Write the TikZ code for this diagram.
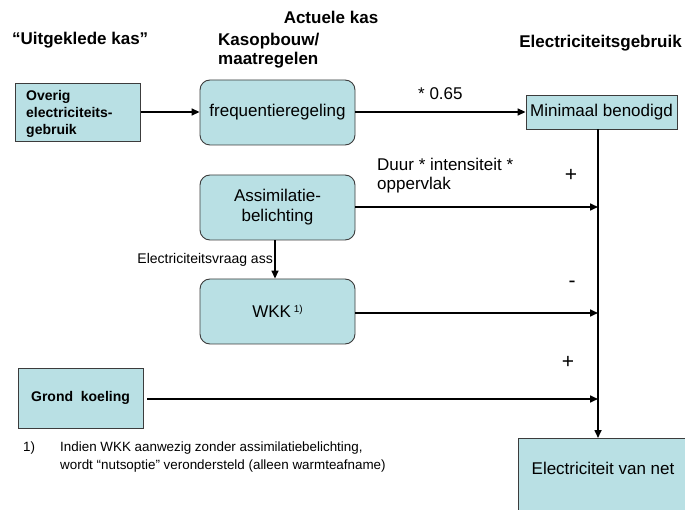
\documentclass[tikz,border=0pt]{standalone}
\usepackage{fontspec}
\setmainfont{Liberation Sans}
\usetikzlibrary{arrows.meta}
\definecolor{boxfill}{RGB}{185,224,228}
\definecolor{boxline}{RGB}{60,60,60}
\tikzset{
  x=1pt, y=-1pt,
  box/.style={draw=boxline, line width=0.9pt, fill=boxfill, inner sep=0pt},
  rbox/.style={box, rounded corners=10pt, minimum width=155pt, minimum height=65pt, align=center, font=\fontsize{17}{20}\selectfont},
  hdr/.style={font=\fontsize{17}{19}\selectfont\bfseries, inner sep=0pt},
  lbl/.style={font=\fontsize{17}{19}\selectfont, inner sep=0pt},
  sgn/.style={font=\fontsize{21}{21}\selectfont, inner sep=0pt},
  arr/.style={line width=1.6pt, -{Triangle[length=8pt,width=7pt]}},
}
\begin{document}
\begin{tikzpicture}
\clip (0,0) rectangle (685,510);
\fill[white] (0,0) rectangle (685,510);
% headers
\node[hdr, anchor=west] (h1) at (12,40) {“Uitgeklede kas”};
\node[hdr, anchor=center] (h2) at (331,17) {Actuele kas};
\node[hdr, anchor=west, align=left] (h3) at (218,51) {Kasopbouw/\\maatregelen};
\node[hdr, anchor=east] (h4) at (682,43) {Electriciteitsgebruik};
% boxes
\node[box, anchor=north west, minimum width=125pt, minimum height=58pt] (ov) at (15,83) {};
\node[anchor=west, align=left, inner sep=0pt, font=\fontsize{14}{17}\selectfont\bfseries] (ovt) at (26,114) {Overig\\electriciteits-\\gebruik};
\node[rbox] (freq) at (277.5,112.5) {frequentieregeling};
\node[box, minimum width=151pt, minimum height=34pt, font=\fontsize{17}{20}\selectfont] (mini) at (601.5,112) {Minimaal benodigd};
\node[rbox] (assim) at (277.5,207.5) {Assimilatie-\\belichting};
\node[rbox] (wkk) at (277.5,311.5) {WKK\,\raisebox{0.55ex}{\fontsize{10}{10}\selectfont 1)}};
\node[box, minimum width=125pt, minimum height=60pt, font=\fontsize{14}{17}\selectfont\bfseries] (grond) at (80.5,398) {Grond\ \ koeling};
\node[box, anchor=north west, minimum width=175pt, minimum height=80pt] (net) at (518,438) {};
\node[lbl] (nett) at (603,468) {Electriciteit van net};
% bus
\coordinate (bus) at (598,0);
% connectors
\draw[arr] (ov.east |- 0,112) -- (freq.west |- 0,112);
\draw[arr] (freq.east |- 0,112) -- (mini.west |- 0,112);
\draw[arr] (mini.south -| bus) -- (net.north -| bus);
\draw[arr] (assim.east |- 0,207) -- (bus |- 0,207);
\draw[arr] (wkk.east |- 0,313) -- (bus |- 0,313);
\draw[arr] ([xshift=4pt]grond.east |- 0,399) -- (bus |- 0,399);
\draw[arr] (assim.south -| 275,0) -- (wkk.north -| 275,0);
% labels
\node[lbl, anchor=west] (f065) at (418,94) {* 0.65};
\node[lbl, anchor=west, align=left] (duur) at (377,176) {Duur * intensiteit *\\oppervlak};
\node[sgn] (p1) at (571,175) {+};
\node[sgn] (m1) at (572,284) {-};
\node[sgn] (p2) at (568,362) {+};
\node[anchor=east, inner sep=0pt, font=\fontsize{14}{16}\selectfont] (eva) at (273,260) {Electriciteitsvraag ass};
% footnote
\node[anchor=west, inner sep=0pt, font=\fontsize{13.4}{18}\selectfont] (fn1) at (23,448) {1)};
\node[anchor=west, align=left, inner sep=0pt, font=\fontsize{13.4}{18}\selectfont] (fn) at (60,457) {Indien WKK aanwezig zonder assimilatiebelichting,\\wordt “nutsoptie” verondersteld (alleen warmteafname)};
\end{tikzpicture}
\end{document}
